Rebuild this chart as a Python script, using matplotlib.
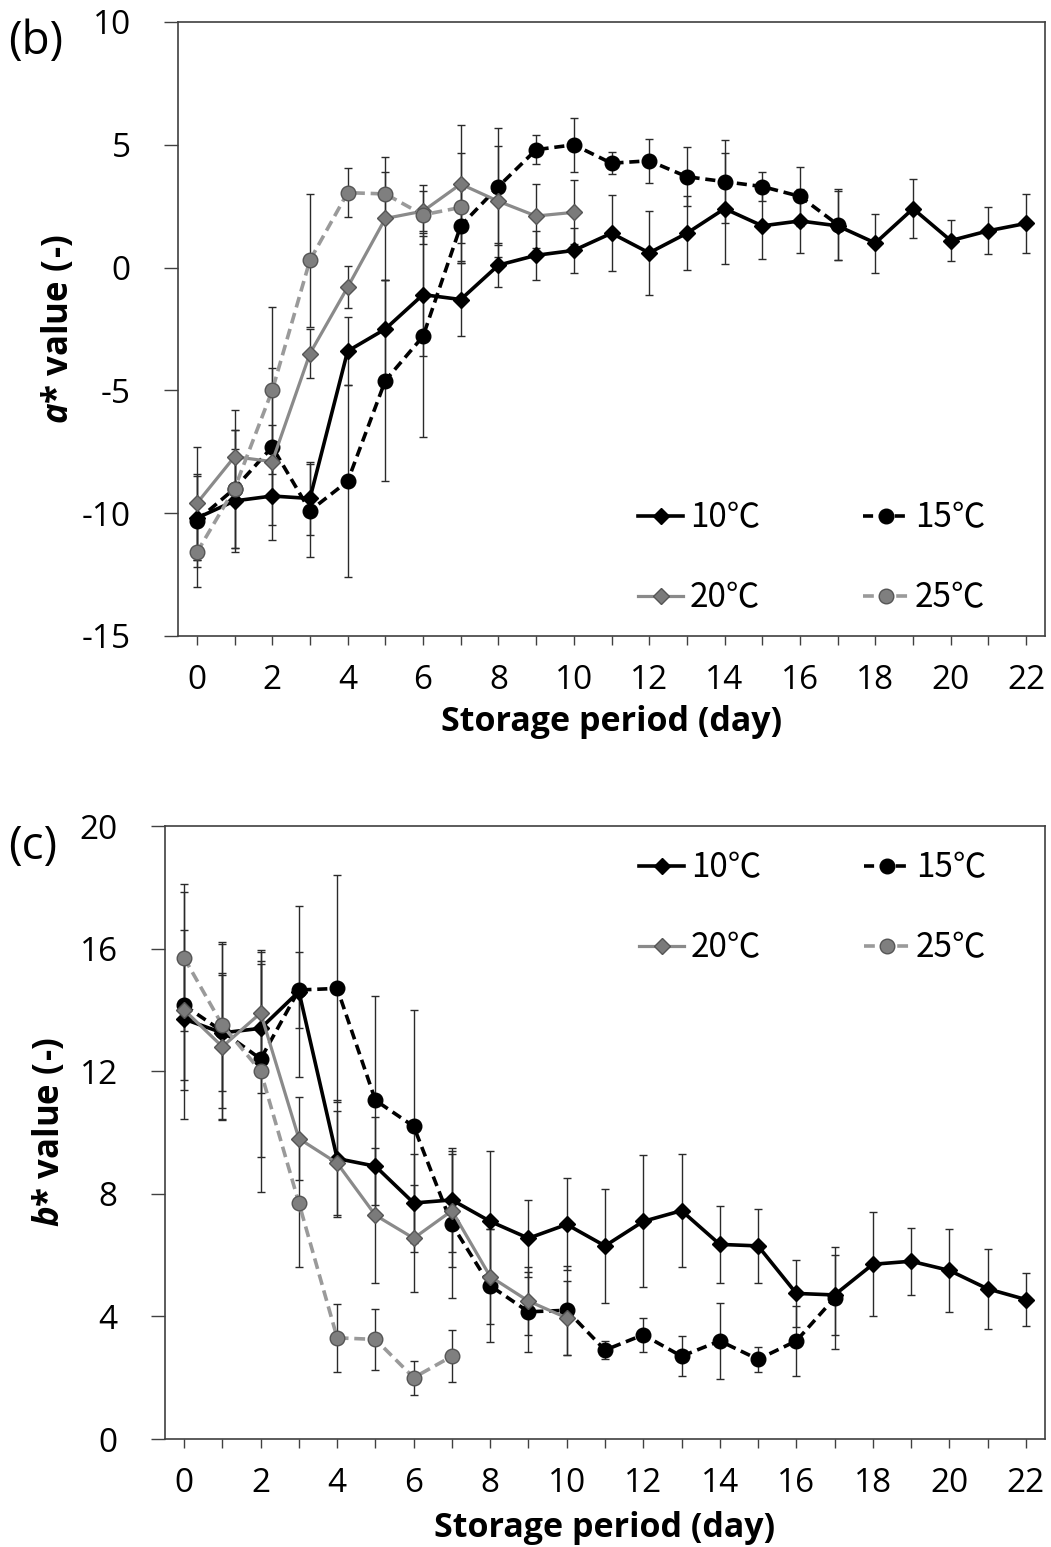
import numpy as np
import matplotlib
matplotlib.use("Agg")
import matplotlib.pyplot as plt

plt.rcParams['font.family'] = ['Open Sans', 'Noto Sans CJK JP']
plt.rcParams['mathtext.fontset'] = 'custom'
plt.rcParams['mathtext.it'] = 'Open Sans:bold:italic'
plt.rcParams['mathtext.rm'] = 'Open Sans:bold'
plt.rcParams['axes.unicode_minus'] = False

# Messwerte (b) a* Wert
a10 = [-10.2, -9.5, -9.3, -9.4, -3.4, -2.5, -1.1, -1.3, 0.1, 0.5, 0.7, 1.4, 0.6,
       1.4, 2.4, 1.7, 1.9, 1.7, 1.0, 2.4, 1.1, 1.5, 1.8]
a10_sd = [1.7, 2.1, 1.8, 1.5, 1.4, 2.0, 2.5, 1.5, 0.9, 1.0, 0.9, 1.55, 1.7,
          1.5, 2.25, 1.35, 1.3, 1.4, 1.2, 1.2, 0.85, 0.95, 1.2]
a15 = [-10.3, -9.0, -7.3, -9.9, -8.7, -4.6, -2.8, 1.7, 3.3, 4.8, 5.0, 4.25,
       4.35, 3.7, 3.5, 3.3, 2.9, 1.75]
a15_sd = [1.9, 2.4, 3.2, 1.9, 3.9, 4.1, 4.1, 1.5, 2.4, 0.6, 1.1, 0.45, 0.9,
          1.2, 1.7, 0.6, 1.2, 1.45]
a20 = [-9.6, -7.7, -7.9, -3.5, -0.8, 2.0, 2.3, 3.4, 2.7, 2.1, 2.25]
a20_sd = [2.3, 1.9, 1.5, 1.0, 0.85, 2.5, 0.8, 2.4, 2.25, 1.3, 1.3]
a25 = [-11.6, -9.0, -5.0, 0.3, 3.05, 3.0, 2.15, 2.45]
a25_sd = [1.4, 2.4, 3.4, 2.7, 1.0, 0.9, 1.2, 2.2]

# Messwerte (c) b* Wert
b10 = [13.7, 13.25, 13.4, 14.6, 9.15, 8.9, 7.7, 7.8, 7.1, 6.55, 7.0, 6.3, 7.1,
       7.45, 6.35, 6.3, 4.75, 4.7, 5.7, 5.8, 5.5, 4.9, 4.55]
b10_sd = [2.0, 1.9, 2.1, 2.8, 1.9, 1.6, 1.6, 1.7, 2.3, 1.25, 1.5, 1.85, 2.15,
          1.85, 1.25, 1.2, 1.1, 1.3, 1.7, 1.1, 1.35, 1.3, 0.85]
b15 = [14.15, 13.3, 12.4, 14.65, 14.7, 11.05, 10.2, 7.0, 5.0, 4.15, 4.2, 2.9,
       3.4, 2.7, 3.2, 2.6, 3.2, 4.6]
b15_sd = [3.7, 2.85, 3.2, 1.25, 3.7, 3.4, 3.8, 2.4, 1.85, 1.3, 1.45, 0.3,
          0.55, 0.65, 1.25, 0.4, 1.15, 1.65]
b20 = [14.0, 12.8, 13.9, 9.8, 9.0, 7.3, 6.55, 7.45, 5.3, 4.5, 3.95]
b20_sd = [2.6, 2.4, 2.0, 1.35, 1.7, 2.2, 1.75, 1.85, 1.55, 1.1, 1.2]
b25 = [15.7, 13.5, 12.0, 7.7, 3.3, 3.25, 2.0, 2.7]
b25_sd = [2.4, 2.7, 3.95, 2.1, 1.1, 1.0, 0.56, 0.85]

labels = ["10\u2103", "15\u2103", "20\u2103", "25\u2103"]

# Stil der vier Reihen: Linienfarbe, Linienstil, Marker, Fuellung, Rand
styles = [
    dict(color="black", ls="-", marker="D", ms=8, mfc="black", mec="black", lw=2.6),
    dict(color="black", ls=(0, (2.8, 1.6)), marker="o", ms=10.5, mfc="black", mec="black", lw=2.6),
    dict(color="#8a8a8a", ls="-", marker="D", ms=8, mfc="#7a7a7a", mec="#555555", lw=2.3),
    dict(color="#9a9a9a", ls=(0, (3.0, 1.6)), marker="o", ms=10.5, mfc="#7f7f7f", mec="#555555", lw=2.6),
]

FS = 24
SPINE = "#404040"


def panel(ax, series, ylim, yticks, ylabel):
    handles = []
    for (y, sd), st in zip(series, styles):
        x = np.arange(len(y))
        ax.errorbar(x, y, yerr=sd, fmt="none", ecolor="#2a2a2a", elinewidth=1.0,
                    capsize=2.8, capthick=1.0, zorder=2)
        h, = ax.plot(x, y, color=st["color"], ls=st["ls"], lw=st["lw"],
                     marker=st["marker"], ms=st["ms"], mfc=st["mfc"],
                     mec=st["mec"], mew=1.0, zorder=3)
        handles.append(h)
    ax.set_xlim(-0.5, 22.5)
    ax.set_ylim(ylim)
    ax.set_yticks(yticks)
    ax.set_xticks(np.arange(0, 23, 1), minor=True)
    ax.set_xticks(np.arange(0, 23, 2))
    for s in ax.spines.values():
        s.set_color(SPINE)
        s.set_linewidth(1.2)
    ax.tick_params(axis="y", direction="out", length=10, width=1.0, color=SPINE,
                   pad=24, labelsize=FS)
    ax.tick_params(axis="x", which="both", direction="out", length=6.5, width=1.0,
                   color=SPINE, pad=14, labelsize=FS)
    ax.set_xlabel("Storage period (day)", fontsize=24.5, fontweight="bold")
    ax.set_ylabel(ylabel, fontsize=25, fontweight="bold")
    return handles


fig = plt.figure(figsize=(10.51, 15.47), dpi=100)
ax1 = fig.add_axes([178/1051, 1-636/1547, 867/1051, 614/1547])
ax2 = fig.add_axes([165/1051, 1-1439/1547, 880/1051, 613/1547])

h1 = panel(ax1, [(a10, a10_sd), (a15, a15_sd), (a20, a20_sd), (a25, a25_sd)],
           (-15, 10), np.arange(-15, 11, 5), r"$a$* value (-)")
h2 = panel(ax2, [(b10, b10_sd), (b15, b15_sd), (b20, b20_sd), (b25, b25_sd)],
           (0, 20), np.arange(0, 21, 4), r"$b$* value (-)")

# Achsenbeschriftung positionieren
ax1.xaxis.label.set_va("center")
ax1.xaxis.set_label_coords(0.5, -0.14)
ax2.xaxis.label.set_va("center")
ax2.xaxis.set_label_coords(0.5, -0.145)
ax1.yaxis.label.set_va("center")
ax1.yaxis.set_label_coords(-0.137, 0.5)
ax2.yaxis.label.set_va("center")
ax2.yaxis.set_label_coords(-0.131, 0.5)

# Legenden, zeilenweise: 10 15 / 20 25
order = [0, 2, 1, 3]
leg_kw = dict(ncol=2, frameon=False, handlelength=1.35,
              handletextpad=0.2, columnspacing=3.1, labelspacing=1.35,
              borderpad=0, borderaxespad=0, loc="center",
              prop=dict(family=['Noto Sans CJK JP'], size=FS))
ax1.legend([h1[i] for i in order], [labels[i] for i in order],
           bbox_to_anchor=(0.731, 0.127), **leg_kw)
ax2.legend([h2[i] for i in order], [labels[i] for i in order],
           bbox_to_anchor=(0.736, 0.866), **leg_kw)

fig.text(0.008, 1-42/1547, "(b)", fontsize=33, va="center", ha="left")
fig.text(0.008, 1-847/1547, "(c)", fontsize=33, va="center", ha="left")

fig.savefig("out.png", dpi=100)
